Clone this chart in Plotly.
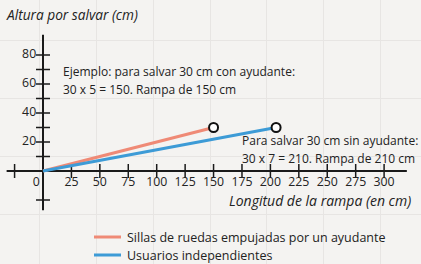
import plotly.graph_objects as go

W, H = 421, 264

# ---- data ----
x_ticks = [-25, 25, 50, 75, 100, 125, 150, 175, 200, 225, 250, 275, 300]
x_tick_labels = ["", "25", "50", "75", "100", "125", "150", "175", "200", "225", "250", "275", "300"]
y_ticks = [80, 70, 60, 50, 40, 30, 20, 10, -20]
y_tick_labels = ["80", "", "60", "", "40", "", "20", "", ""]

helper_x = [0, 150]
helper_y = [0, 30]
indep_x = [0, 205]
indep_y = [0, 30]

red = "#ef8a76"
blue = "#3d9bd6"
font = "Open Sans"

# pixel mapping (origin at px 43,171)
X0, SX = 43, 1.137
Y0, SY = 171, 1.45
xr = [-X0 / SX, (W - X0) / SX]
yr = [-(H - Y0) / SY, Y0 / SY]

fig = go.Figure()

# axes
fig.add_trace(go.Scatter(x=[-32, 320], y=[0, 0], mode="lines",
                         line=dict(color="#1a1a1a", width=2), hoverinfo="skip"))
fig.add_trace(go.Scatter(x=[0, 0], y=[-27, 94], mode="lines",
                         line=dict(color="#1a1a1a", width=2), hoverinfo="skip"))
# tick marks
fig.add_trace(go.Scatter(x=x_ticks, y=[0] * len(x_ticks), mode="markers",
                         marker=dict(symbol="line-ns", size=10,
                                     line=dict(color="#1a1a1a", width=1.5)),
                         hoverinfo="skip"))
fig.add_trace(go.Scatter(x=[0] * len(y_ticks), y=y_ticks, mode="markers",
                         marker=dict(symbol="line-ew", size=10,
                                     line=dict(color="#1a1a1a", width=1.5)),
                         hoverinfo="skip"))
# tick labels
fig.add_trace(go.Scatter(x=x_ticks, y=[-8.5] * len(x_ticks), mode="text",
                         text=x_tick_labels, textposition="middle center",
                         textfont=dict(family=font, size=12.3, color="#222"),
                         hoverinfo="skip"))
fig.add_trace(go.Scatter(x=[-6] * len(y_ticks), y=y_ticks, mode="text",
                         text=y_tick_labels, textposition="middle left",
                         textfont=dict(family=font, size=12.3, color="#222"),
                         hoverinfo="skip"))
fig.add_trace(go.Scatter(x=[-6], y=[-8.5], mode="text", text=["0"],
                         textposition="middle center",
                         textfont=dict(family=font, size=12.3, color="#222"),
                         hoverinfo="skip"))

# data lines
fig.add_trace(go.Scatter(x=helper_x, y=helper_y, mode="lines",
                         line=dict(color=red, width=3), hoverinfo="skip"))
fig.add_trace(go.Scatter(x=indep_x, y=indep_y, mode="lines",
                         line=dict(color=blue, width=3), hoverinfo="skip"))
fig.add_trace(go.Scatter(x=[helper_x[-1], indep_x[-1]], y=[helper_y[-1], indep_y[-1]],
                         mode="markers",
                         marker=dict(symbol="circle", size=9, color="white",
                                     line=dict(color="#111", width=2)),
                         hoverinfo="skip"))


def px(x):
    return x / W


def py(y):
    return 1 - y / H


def note(x, y, text, size=12, italic=False, anchor="left"):
    fig.add_annotation(x=px(x), y=py(y), xref="paper", yref="paper",
                       text=f"<i>{text}</i>" if italic else text,
                       showarrow=False, xanchor=anchor, yanchor="middle",
                       font=dict(family=font, size=size, color="#222"))


note(4, 15, "Altura por salvar (cm)", size=13.7, italic=True)
note(61, 71, "Ejemplo: para salvar 30 cm con ayudante:")
note(61, 89, "30 x 5 = 150. Rampa de 150 cm")
note(240, 140, "Para salvar 30 cm sin ayudante:")
note(240, 158, "30 x 7 = 210. Rampa de 210 cm")
note(413, 200, "Longitud de la rampa (en cm)", size=14, italic=True, anchor="right")

# legend
for yy, col, txt in [(237, red, "Sillas de ruedas empujadas por un ayudante"),
                     (255, blue, "Usuarios independientes")]:
    fig.add_shape(type="line", xref="paper", yref="paper",
                  x0=px(94), x1=px(121), y0=py(yy), y1=py(yy),
                  line=dict(color=col, width=3))
    note(125, yy, txt, size=12.5)

fig.update_xaxes(range=xr, domain=[0, 1], showgrid=True, gridcolor="#e7e5e3",
                 gridwidth=1, dtick=50, tick0=-3, zeroline=False,
                 showticklabels=False, ticks="", showline=False, fixedrange=True)
fig.update_yaxes(range=yr, domain=[0, 1], showgrid=True, gridcolor="#e7e5e3",
                 gridwidth=1, dtick=40, tick0=10, zeroline=False,
                 showticklabels=False, ticks="", showline=False, fixedrange=True)
fig.update_layout(width=W, height=H, margin=dict(l=0, r=0, t=0, b=0),
                  paper_bgcolor="#f4f3f1", plot_bgcolor="#f4f3f1",
                  showlegend=False)

fig.write_html("out.html")
